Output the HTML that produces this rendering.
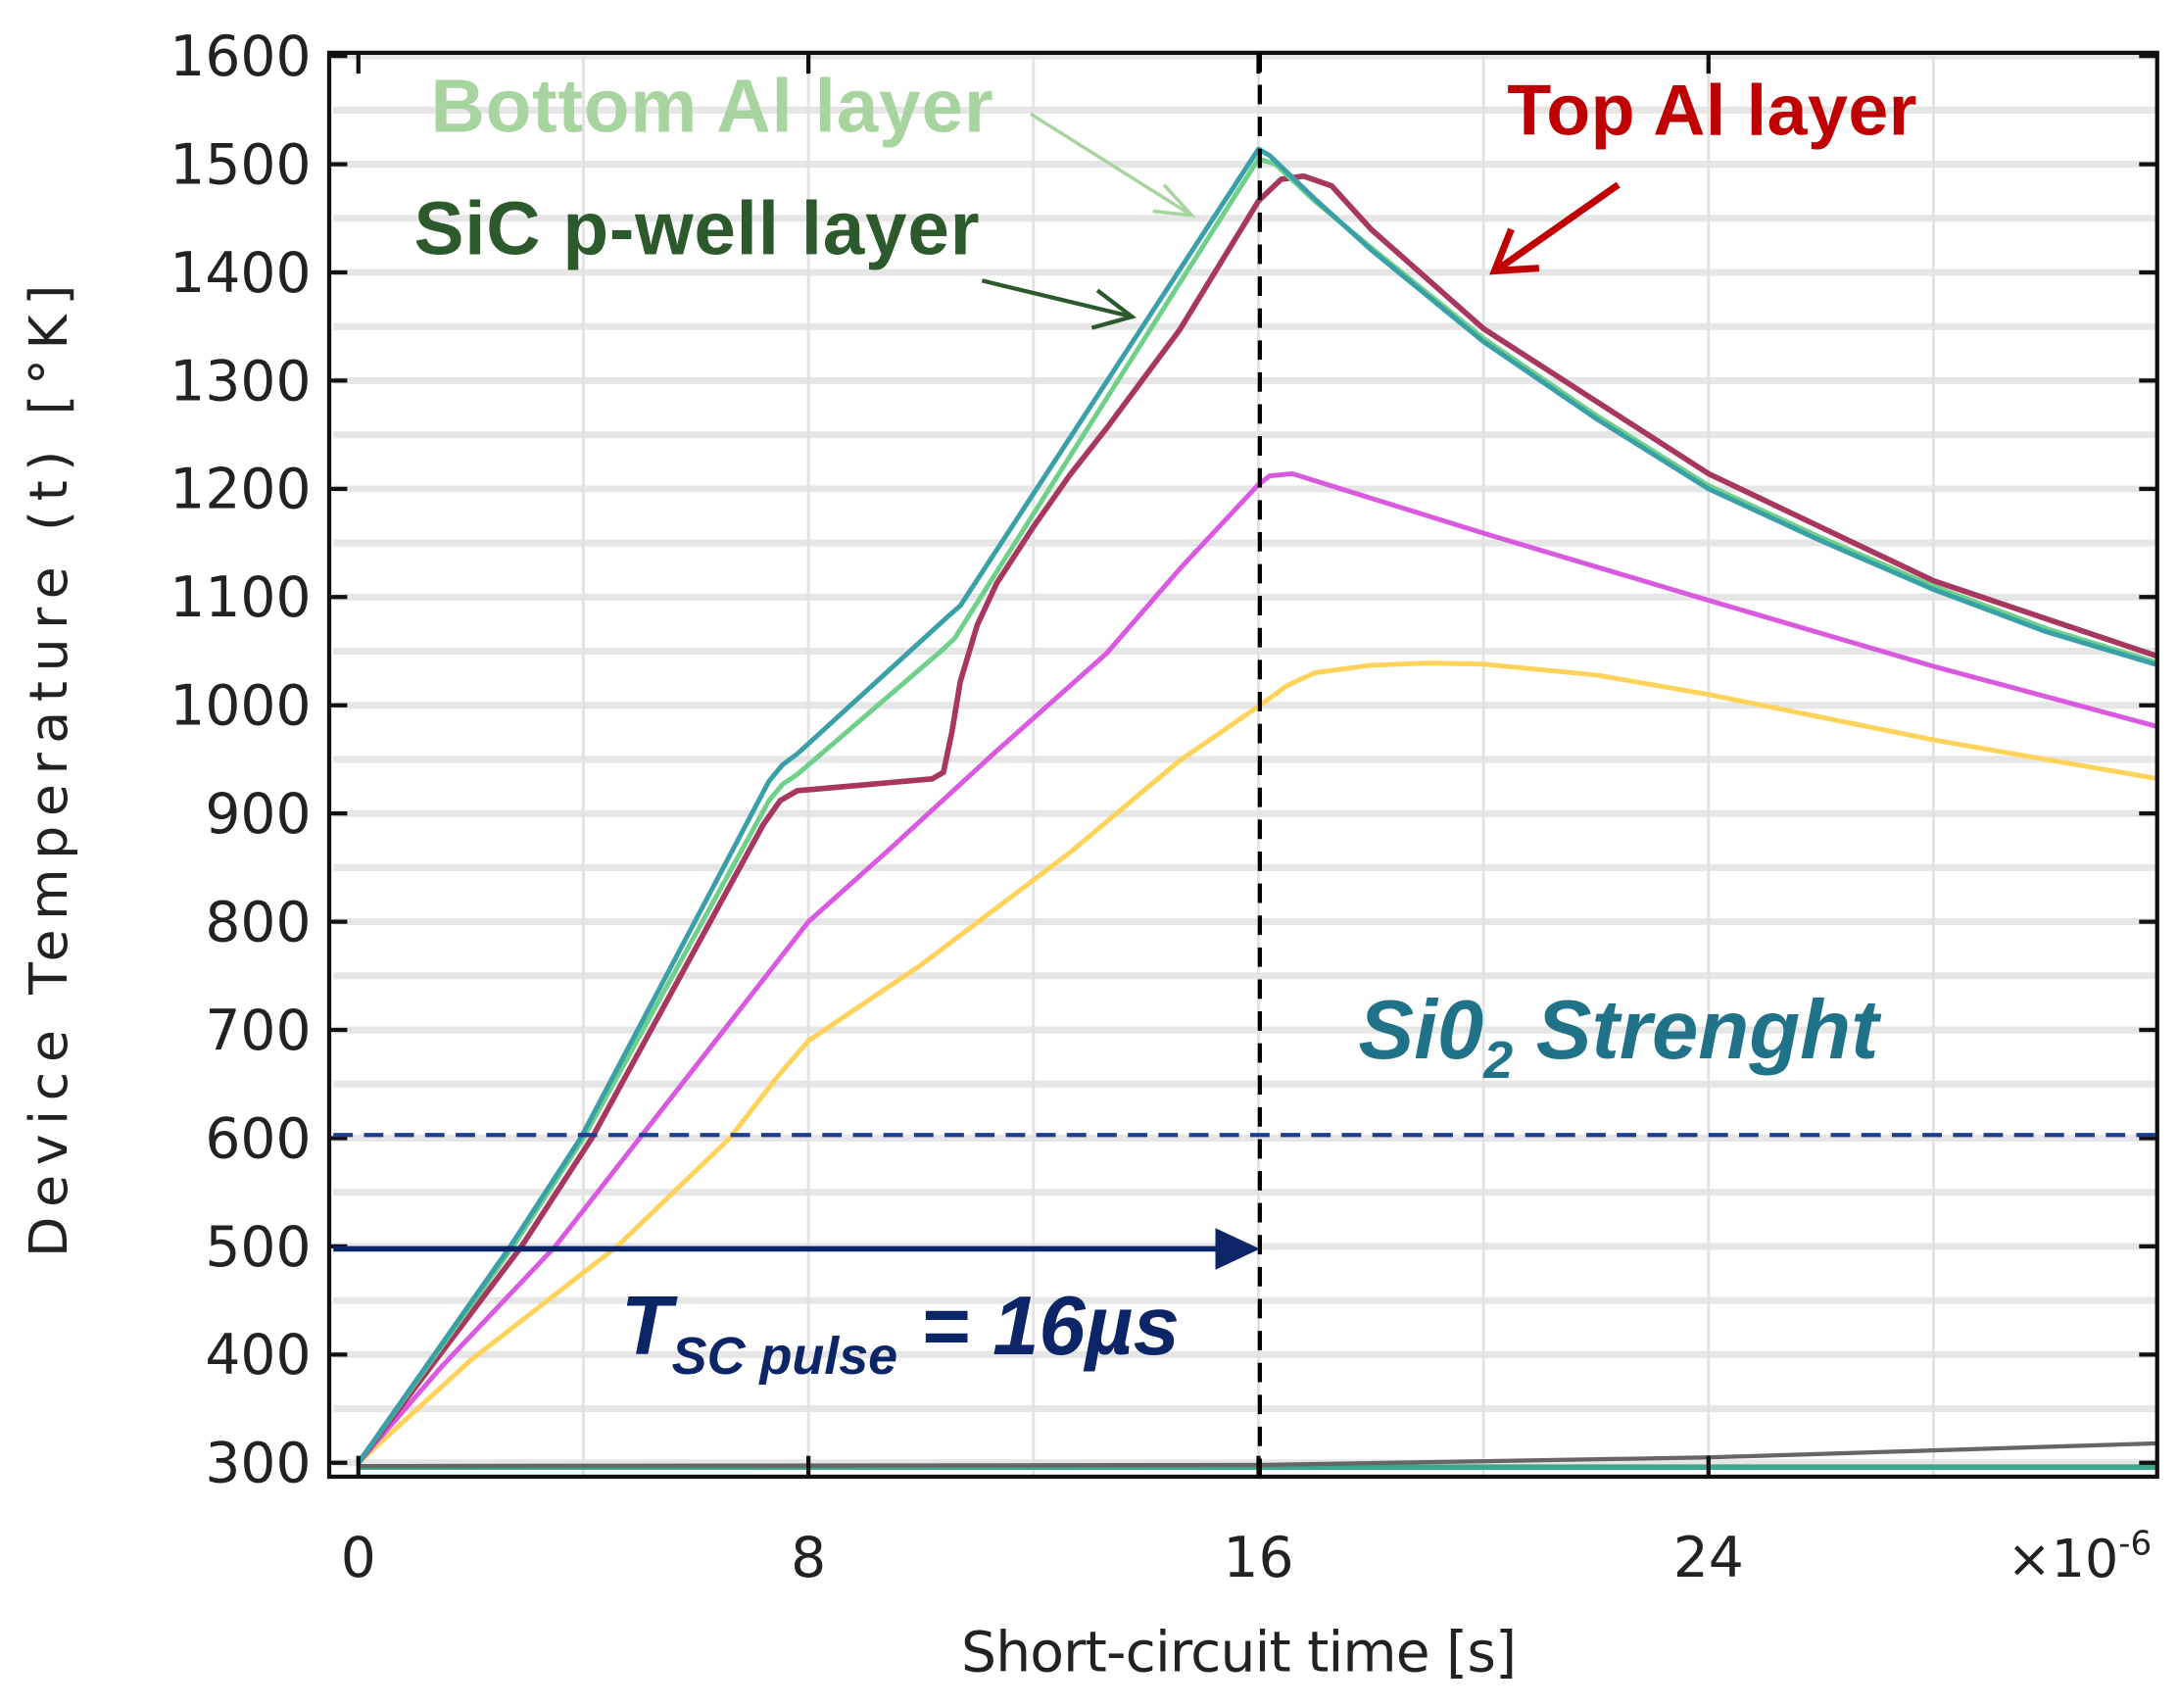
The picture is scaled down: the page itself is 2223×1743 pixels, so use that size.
<!DOCTYPE html>
<html><head><meta charset="utf-8"><style>
html,body{margin:0;padding:0;background:#fff}
svg{display:block}
</style></head><body>
<svg id="chart" width="2223" height="1743" viewBox="0 0 1568 1229.5" preserveAspectRatio="none" xmlns="http://www.w3.org/2000/svg" font-family="'DejaVu Sans','Liberation Sans',sans-serif">
<g id="grid"></g>
<g id="series"></g>
<g id="axes"></g>
<line x1="907" y1="38" x2="907" y2="1063" stroke="#000" stroke-width="3" stroke-dasharray="14,9"/>
<line x1="240" y1="817" x2="1553" y2="817" stroke="#1b3f8f" stroke-width="3" stroke-dasharray="14,8"/>
<g>
<line x1="240" y1="899" x2="885" y2="899" stroke="#0b2566" stroke-width="4"/>
<polygon points="875,884 907,899 875,914" fill="#0b2566"/>
</g>
<text x="310" y="95" font-family="'Liberation Sans',sans-serif" font-weight="bold" font-size="54" fill="#a8d4a0" textLength="405">Bottom Al layer</text>
<g stroke="#a8d4a0" stroke-width="2.5" fill="none"><line x1="742" y1="82" x2="858" y2="155"/><polyline points="838,133 858,155 830,152"/></g>
<text x="298" y="183" font-family="'Liberation Sans',sans-serif" font-weight="bold" font-size="54" fill="#2c5a2c" textLength="407">SiC p-well layer</text>
<g stroke="#2c5a2c" stroke-width="3" fill="none"><line x1="707" y1="202" x2="815" y2="228"/><polyline points="790,209 815,228 786,236"/></g>
<text x="1085" y="97" font-family="'Liberation Sans',sans-serif" font-weight="bold" font-size="52" fill="#c00000" textLength="295">Top Al layer</text>
<g stroke="#c00000" stroke-width="5" fill="none"><line x1="1165" y1="133" x2="1078" y2="194"/><polyline points="1088,165 1076,195 1108,193"/></g>
<text x="978" y="762" font-family="'Liberation Sans',sans-serif" font-weight="bold" font-style="italic" font-size="60" fill="#1f7288">Si0<tspan font-size="38" dy="14">2</tspan><tspan dy="-14"> Strenght</tspan></text>
<text x="447" y="975" font-family="'Liberation Sans',sans-serif" font-weight="bold" font-style="italic" font-size="60" fill="#0b2566">T<tspan font-size="38" dy="14">SC pulse</tspan><tspan dy="-14"> = 16µs</tspan></text>
<text transform="translate(48,555) rotate(-90)" text-anchor="middle" font-size="38" fill="#222" textLength="700">Device Temperature (t) [°K]</text>
<text x="892" y="1203" text-anchor="middle" font-size="40" fill="#222" textLength="400">Short-circuit time [s]</text>
<text x="1445" y="1135" font-size="38" fill="#222">×10<tspan font-size="24" dy="-16">-6</tspan></text>
</svg>
<script>
const xTicks=[0,8,16,24];
const yTicks=[300,400,500,600,700,800,900,1000,1100,1200,1300,1400,1500,1600];
const tealT=[0,2.7,3.95,7.3,7.54,7.8,10.5,10.7,16,16.2,17,18,20,22,24,26,28,30,32];
const tealV=[300,500,600,930,945,955,1083,1092,1514,1508,1468,1421,1336,1265,1200,1152,1107,1068,1037];
const greenT=[0,2.75,4,7.3,7.54,7.8,10.4,10.6,16,16.3,17,18,20,22,24,26,28,30,32];
const greenV=[300,500,600,912,927,936,1052,1062,1505,1500,1466,1423,1339,1268,1203,1155,1110,1071,1039];
const maroonT=[0,2.9,4.15,7.2,7.5,7.8,10.2,10.4,10.55,10.7,11,11.35,12,12.65,13.3,14.6,16,16.4,16.8,17.3,18,20,24,28,32];
const maroonV=[300,500,600,890,912,921,932,938,975,1022,1074,1113,1165,1213,1256,1347,1466,1486,1489,1480,1440,1348,1214,1115,1045];
const magentaT=[0,1.5,3.5,5,6.5,8,9.4,11.35,13.3,14.6,16,16.2,16.6,20,24,28,32];
const magentaV=[300,390,500,600,700,800,865,958,1048,1126,1204,1212,1214,1159,1097,1036,980];
const yellowT=[0,2,4.6,6.6,7.5,8,10,12.65,14.6,16,16.5,17,18,19,20,22,24,28,32];
const yellowV=[300,395,500,600,660,690,760,864,949,999,1018,1030,1037,1039,1038,1028,1010,968,932];
const grayT=[0,16,24,32];
const grayV=[297,298,305,318];
const baseT=[0,32];
const baseV=[296,296];
const NS='http://www.w3.org/2000/svg';
const X0=258,XPU=40.5,Y0=1053,YPU=0.779;
function sx(t){return X0+t*XPU;}
function sy(v){return Y0-(v-300)*YPU;}
function mk(tag,attrs,parent){const e=document.createElementNS(NS,tag);for(const k in attrs)e.setAttribute(k,attrs[k]);parent.appendChild(e);return e;}
const grid=document.getElementById('grid'),axes=document.getElementById('axes'),ser=document.getElementById('series');
for(let v=300;v<=1600;v+=50){const l=mk('line',{x1:240,x2:1553,y1:sy(v),y2:sy(v),stroke:'#e6e6e6','stroke-width':5},grid);

}
for(let t=4;t<=28;t+=4){const l=mk('line',{x1:sx(t),x2:sx(t),y1:38,y2:1063,stroke:'#e2e2e2','stroke-width':2},grid);

}
function path(T,V){return 'M'+T.map((t,i)=>sx(t)+','+sy(V[i])).join(' L');}
function series(T,V,color,name,w){const e=mk('path',{d:path(T,V),fill:'none',stroke:color,'stroke-width':w||3.5,'stroke-linejoin':'round'},ser);

}
series(baseT,baseV,'#3aa88a','baseline-series',4);
series(grayT,grayV,'#666','gray-series',3);
series(yellowT,yellowV,'#ffd35a','yellow-series');
series(magentaT,magentaV,'#d95ae0','magenta-series');
series(maroonT,maroonV,'#a8375f','top-al-series',4);
series(greenT,greenV,'#6fd08a','bottom-al-series');
series(tealT,tealV,'#3aa0a8','sic-pwell-series');
const fr=mk('rect',{x:237,y:38,width:1316,height:1025,fill:'none',stroke:'#111','stroke-width':3},axes);


yTicks.forEach(v=>{const y=sy(v);
mk('line',{x1:237,x2:250,y1:y,y2:y,stroke:'#111','stroke-width':3},axes);
mk('line',{x1:1540,x2:1553,y1:y,y2:y,stroke:'#111','stroke-width':3},axes);
const t=mk('text',{x:224,y:y+14,'text-anchor':'end','font-size':40,fill:'#222'},axes);t.textContent=v;

});
xTicks.forEach(v=>{const x=sx(v);
mk('line',{x1:x,x2:x,y1:1063,y2:1048,stroke:'#111','stroke-width':3},axes);
mk('line',{x1:x,x2:x,y1:38,y2:53,stroke:'#111','stroke-width':3},axes);
const t=mk('text',{x:x,y:1135,'text-anchor':'middle','font-size':40,fill:'#222'},axes);t.textContent=v;

});
</script>
</body></html>
